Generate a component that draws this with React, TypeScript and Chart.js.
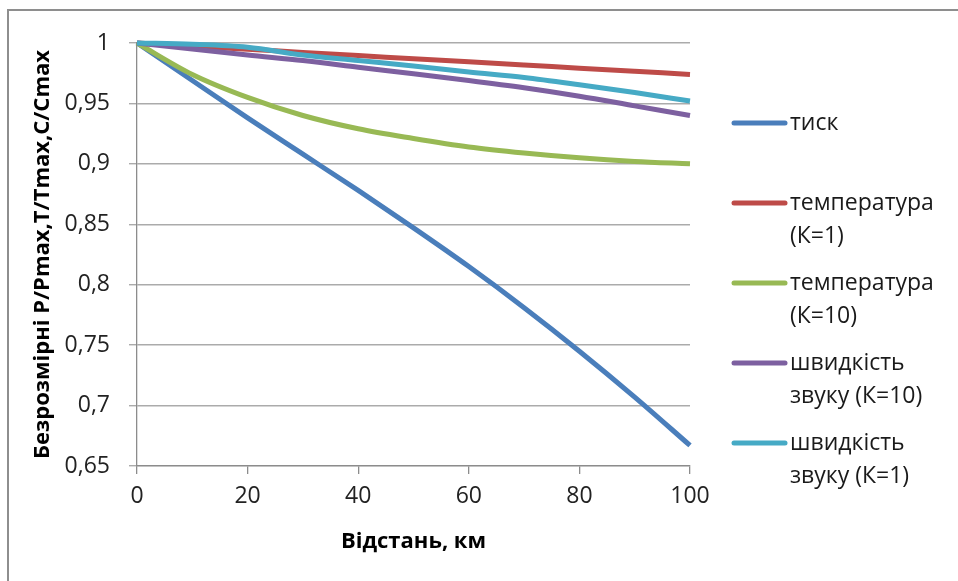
import React, { useEffect, useRef } from "react";
import { Chart, registerables } from "chart.js";

Chart.register(...registerables);

const distances = [0, 10, 20, 30, 40, 50, 60, 70, 80, 90, 100];
const pressure = [1, 0.969, 0.938, 0.908, 0.878, 0.847, 0.815, 0.781, 0.745, 0.707, 0.667];
const tempK1 = [1, 0.9974, 0.9948, 0.9922, 0.9896, 0.987, 0.9844, 0.9818, 0.9792, 0.9766, 0.974];
const tempK10 = [1, 0.974, 0.955, 0.94, 0.929, 0.921, 0.914, 0.909, 0.905, 0.902, 0.9];
const soundK10 = [1, 0.995, 0.99, 0.9855, 0.98, 0.9745, 0.969, 0.963, 0.956, 0.948, 0.94];
const soundK1 = [1, 0.999, 0.9965, 0.99, 0.9855, 0.981, 0.976, 0.9715, 0.9655, 0.959, 0.952];

const seriesLabels = [
  "тиск",
  "температура\n(К=1)",
  "температура\n(К=10)",
  "швидкість\nзвуку (К=10)",
  "швидкість\nзвуку (К=1)",
];
const seriesColors = ["#4A7EBB", "#BE4B48", "#98B954", "#7D60A0", "#46AAC5"];
const yTickLabels = ["0,65", "0,7", "0,75", "0,8", "0,85", "0,9", "0,95", "1"];
const xTickLabels = ["0", "20", "40", "60", "80", "100"];
const xTitle = "Відстань, км";
const yTitle = "Безрозмірні P/Pmax,T/Tmax,C/Cmax";

const FONT = '"Open Sans", "Noto Sans", sans-serif';

const sideLegend = {
  id: "sideLegend",
  afterDraw(chart: any) {
    const ctx = chart.ctx;
    const area = chart.chartArea;
    ctx.save();
    ctx.font = `23px ${FONT}`;
    ctx.textBaseline = "middle";
    ctx.textAlign = "left";
    chart.data.datasets.forEach((ds: any, i: number) => {
      const y = 123 + i * 80;
      const x0 = area.right + 44;
      ctx.strokeStyle = ds.borderColor;
      ctx.lineWidth = 5;
      ctx.lineCap = "round";
      ctx.beginPath();
      ctx.moveTo(x0, y);
      ctx.lineTo(x0 + 51, y);
      ctx.stroke();
      ctx.fillStyle = "#1a1a1a";
      String(ds.label)
        .split("\n")
        .forEach((line: string, j: number) => ctx.fillText(line, x0 + 56, y + j * 33));
    });
    ctx.restore();
  },
};

export default function App() {
  const ref = useRef<HTMLCanvasElement | null>(null);

  useEffect(() => {
    if (!ref.current) return;
    const series = [pressure, tempK1, tempK10, soundK10, soundK1];
    const chart = new Chart(ref.current, {
      type: "line",
      data: {
        datasets: series.map((vals, i) => ({
          label: seriesLabels[i],
          data: distances.map((d, k) => ({ x: d, y: vals[k] })),
          borderColor: seriesColors[i],
          backgroundColor: seriesColors[i],
          borderWidth: 5,
          pointRadius: 0,
          tension: 0.4,
          cubicInterpolationMode: "monotone" as const,
          fill: false,
          clip: 10,
          order: series.length - i,
        })),
      },
      options: {
        responsive: false,
        animation: false,
        events: [],
        layout: { padding: { left: 0, top: 43, right: 268, bottom: 0 } },
        plugins: { legend: { display: false }, tooltip: { enabled: false } },
        scales: {
          x: {
            type: "linear",
            min: 0,
            max: 100,
            afterFit: (s: any) => {
              s.height = 115;
            },
            ticks: {
              stepSize: 20,
              padding: 9,
              color: "#222",
              font: { family: FONT, size: 23 },
              callback: (_v: any, i: number) => xTickLabels[i],
            },
            grid: {
              drawOnChartArea: false,
              drawTicks: true,
              tickLength: 8,
              color: "#8c8c8c",
              lineWidth: 1.3,
            },
            border: { display: true, color: "#8c8c8c", width: 1.3 },
            title: {
              display: true,
              text: xTitle,
              color: "#000",
              font: { family: FONT, size: 22, weight: "bold", lineHeight: 1.2 },
              padding: { top: 0, bottom: 26 },
            },
          },
          y: {
            type: "linear",
            min: 0.65,
            max: 1,
            afterFit: (s: any) => {
              s.width = 137;
            },
            ticks: {
              stepSize: 0.05,
              padding: 19,
              color: "#222",
              font: { family: FONT, size: 23 },
              callback: (_v: any, i: number) => yTickLabels[i],
            },
            grid: {
              drawOnChartArea: true,
              drawTicks: true,
              tickLength: 8,
              color: "#ababab",
              lineWidth: 1.4,
            },
            border: { display: true, color: "#8c8c8c", width: 1.3 },
            title: {
              display: true,
              text: yTitle,
              color: "#000",
              font: { family: FONT, size: 22, weight: "bold", lineHeight: 1.2 },
              padding: { top: 30, bottom: 0 },
            },
          },
        },
      },
      plugins: [sideLegend],
    });
    return () => chart.destroy();
  }, []);

  return (
    <div
      style={{
        position: "fixed",
        left: 0,
        top: 0,
        width: 958,
        height: 581,
        overflow: "hidden",
        background: "#fff",
      }}
    >
      <div
        style={{
          position: "absolute",
          left: 7,
          top: 9,
          width: 2000,
          height: 2000,
          border: "2px solid #8e8e8e",
        }}
      />
      <canvas
        ref={ref}
        width={958}
        height={581}
        style={{ position: "absolute", left: 0, top: 0, width: 958, height: 581, display: "block" }}
      />
    </div>
  );
}
